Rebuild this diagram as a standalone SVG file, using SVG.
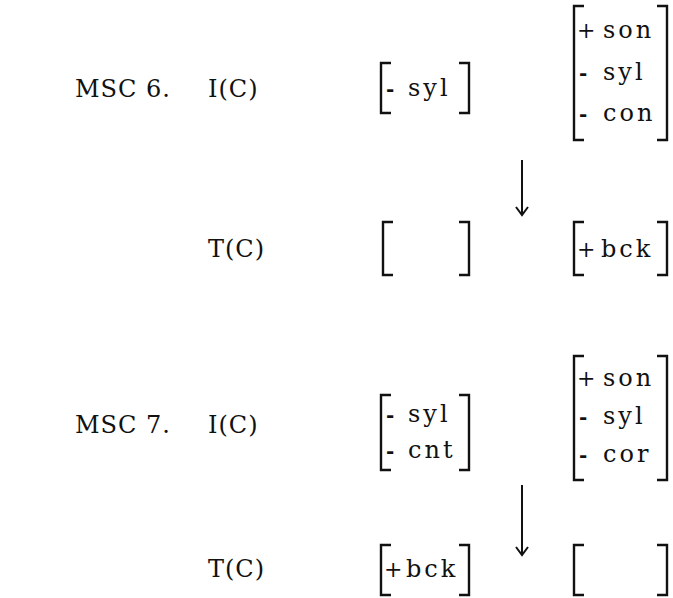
<svg xmlns="http://www.w3.org/2000/svg" width="673" height="598" viewBox="0 0 673 598">
<defs>
<style>
text{font-family:"DejaVu Serif","Liberation Serif",serif;font-size:24px;fill:#111}
.lb{letter-spacing:1px}
.ft{letter-spacing:3px}
.pm{font-size:20px;font-weight:bold;letter-spacing:0}
.pl{font-size:22px;font-weight:normal;letter-spacing:0}
.br{fill:none;stroke:#111;stroke-width:2.4}
.ar{fill:none;stroke:#111;stroke-width:2}
</style>
</defs>
<rect width="673" height="598" fill="#fff"/>
<g id="msc6-label"><text class="lb" x="75" y="97">MSC 6.</text></g>
<g id="msc6-ic"><text class="lb" x="208" y="97">I(C)</text></g>
<g id="msc6-i-left">
<path class="br" d="M391,63 H381 V113 H391 M459,63 H469 V113 H459"/>
<text class="ft" x="386" y="96"><tspan class="pm">-</tspan><tspan x="408">syl</tspan></text>
</g>
<g id="msc6-i-right">
<path class="br" d="M584,6 H574 V140 H584 M657,6 H667 V140 H657"/>
<text class="ft" x="577" y="38"><tspan class="pl">+</tspan><tspan x="603">son</tspan></text>
<text class="ft" x="579" y="80"><tspan class="pm">-</tspan><tspan x="603">syl</tspan></text>
<text class="ft" x="579" y="121"><tspan class="pm">-</tspan><tspan x="603">con</tspan></text>
</g>
<g id="msc6-tc"><text class="lb" x="208" y="257">T(C)</text></g>
<g id="msc6-t-left">
<path class="br" d="M393,222 H383 V275 H393 M459,222 H469 V275 H459"/>
</g>
<g id="msc6-t-right">
<path class="br" d="M584,222 H574 V275 H584 M657,222 H667 V275 H657"/>
<text class="ft" x="577" y="257"><tspan class="pl">+</tspan><tspan x="601">bck</tspan></text>
</g>
<g id="msc7-label"><text class="lb" x="75" y="433">MSC 7.</text></g>
<g id="msc7-ic"><text class="lb" x="208" y="433">I(C)</text></g>
<g id="msc7-i-left">
<path class="br" d="M391,395 H381 V470 H391 M459,395 H469 V470 H459"/>
<text class="ft" x="386" y="422"><tspan class="pm">-</tspan><tspan x="408">syl</tspan></text>
<text class="ft" x="386" y="458"><tspan class="pm">-</tspan><tspan x="408">cnt</tspan></text>
</g>
<g id="msc7-i-right">
<path class="br" d="M584,356 H574 V480 H584 M657,356 H667 V480 H657"/>
<text class="ft" x="577" y="386"><tspan class="pl">+</tspan><tspan x="603">son</tspan></text>
<text class="ft" x="579" y="424"><tspan class="pm">-</tspan><tspan x="603">syl</tspan></text>
<text class="ft" x="579" y="462"><tspan class="pm">-</tspan><tspan x="603">cor</tspan></text>
</g>
<g id="msc7-tc"><text class="lb" x="208" y="577">T(C)</text></g>
<g id="msc7-t-left">
<path class="br" d="M391,545 H381 V595 H391 M459,545 H469 V595 H459"/>
<text class="ft" x="384" y="577"><tspan class="pl">+</tspan><tspan x="406">bck</tspan></text>
</g>
<g id="msc7-t-right">
<path class="br" d="M584,545 H574 V595 H584 M657,545 H667 V595 H657"/>
</g>
<g id="connectors">
<line class="ar" x1="522" y1="160" x2="522" y2="214"/>
<path class="ar" d="M516,207 L522,215 L528,207"/>
<line class="ar" x1="522" y1="485" x2="522" y2="554"/>
<path class="ar" d="M516,547 L522,555 L528,547"/>
</g>
</svg>
